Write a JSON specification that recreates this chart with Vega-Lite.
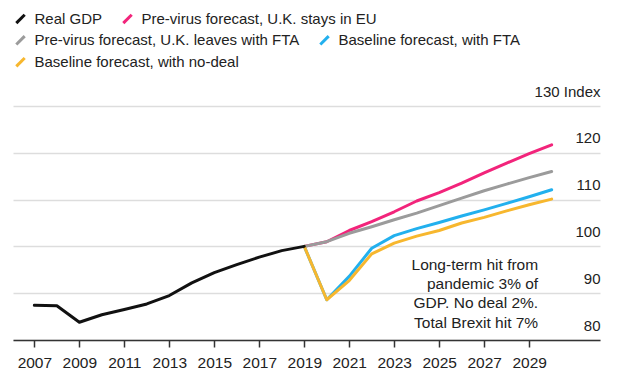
{
  "$schema": "https://vega.github.io/schema/vega-lite/v6.json",
  "width": 587,
  "height": 234,
  "autosize": {"type": "none"},
  "padding": {"left": 13, "top": 106, "right": 20, "bottom": 40},
  "background": "white",
  "config": {
    "view": {"stroke": null},
    "font": "Liberation Sans",
    "legend": {
      "title": null,
      "orient": "none",
      "direction": "horizontal",
      "columns": 2,
      "columnPadding": 14,
      "rowPadding": 1,
      "labelFontSize": 15,
      "labelColor": "#222222",
      "labelOffset": 6.5,
      "labelLimit": 400,
      "symbolType": "M-1,1L1,-1",
      "symbolSize": 70,
      "symbolStrokeWidth": 3,
      "symbolFillColor": "transparent"
    }
  },
  "datasets": {
    "gdp": [
      {"year": 2007, "value": 87.4, "series": "Real GDP"},
      {"year": 2008, "value": 87.3, "series": "Real GDP"},
      {"year": 2009, "value": 83.8, "series": "Real GDP"},
      {"year": 2010, "value": 85.4, "series": "Real GDP"},
      {"year": 2011, "value": 86.5, "series": "Real GDP"},
      {"year": 2012, "value": 87.7, "series": "Real GDP"},
      {"year": 2013, "value": 89.5, "series": "Real GDP"},
      {"year": 2014, "value": 92.2, "series": "Real GDP"},
      {"year": 2015, "value": 94.4, "series": "Real GDP"},
      {"year": 2016, "value": 96.1, "series": "Real GDP"},
      {"year": 2017, "value": 97.7, "series": "Real GDP"},
      {"year": 2018, "value": 99.1, "series": "Real GDP"},
      {"year": 2019, "value": 100.0, "series": "Real GDP"},
      {"year": 2019, "value": 100.0, "series": "Pre-virus forecast, U.K. stays in EU"},
      {"year": 2020, "value": 101.0, "series": "Pre-virus forecast, U.K. stays in EU"},
      {"year": 2021, "value": 103.4, "series": "Pre-virus forecast, U.K. stays in EU"},
      {"year": 2022, "value": 105.3, "series": "Pre-virus forecast, U.K. stays in EU"},
      {"year": 2023, "value": 107.4, "series": "Pre-virus forecast, U.K. stays in EU"},
      {"year": 2024, "value": 109.7, "series": "Pre-virus forecast, U.K. stays in EU"},
      {"year": 2025, "value": 111.5, "series": "Pre-virus forecast, U.K. stays in EU"},
      {"year": 2026, "value": 113.5, "series": "Pre-virus forecast, U.K. stays in EU"},
      {"year": 2027, "value": 115.7, "series": "Pre-virus forecast, U.K. stays in EU"},
      {"year": 2028, "value": 117.8, "series": "Pre-virus forecast, U.K. stays in EU"},
      {"year": 2029, "value": 119.8, "series": "Pre-virus forecast, U.K. stays in EU"},
      {"year": 2030, "value": 121.7, "series": "Pre-virus forecast, U.K. stays in EU"},
      {"year": 2019, "value": 100.0, "series": "Pre-virus forecast, U.K. leaves with FTA"},
      {"year": 2020, "value": 101.0, "series": "Pre-virus forecast, U.K. leaves with FTA"},
      {"year": 2021, "value": 102.8, "series": "Pre-virus forecast, U.K. leaves with FTA"},
      {"year": 2022, "value": 104.2, "series": "Pre-virus forecast, U.K. leaves with FTA"},
      {"year": 2023, "value": 105.7, "series": "Pre-virus forecast, U.K. leaves with FTA"},
      {"year": 2024, "value": 107.1, "series": "Pre-virus forecast, U.K. leaves with FTA"},
      {"year": 2025, "value": 108.7, "series": "Pre-virus forecast, U.K. leaves with FTA"},
      {"year": 2026, "value": 110.3, "series": "Pre-virus forecast, U.K. leaves with FTA"},
      {"year": 2027, "value": 111.9, "series": "Pre-virus forecast, U.K. leaves with FTA"},
      {"year": 2028, "value": 113.3, "series": "Pre-virus forecast, U.K. leaves with FTA"},
      {"year": 2029, "value": 114.7, "series": "Pre-virus forecast, U.K. leaves with FTA"},
      {"year": 2030, "value": 116.0, "series": "Pre-virus forecast, U.K. leaves with FTA"},
      {"year": 2019, "value": 100.0, "series": "Baseline forecast, with FTA"},
      {"year": 2020, "value": 88.6, "series": "Baseline forecast, with FTA"},
      {"year": 2021, "value": 93.6, "series": "Baseline forecast, with FTA"},
      {"year": 2022, "value": 99.6, "series": "Baseline forecast, with FTA"},
      {"year": 2023, "value": 102.3, "series": "Baseline forecast, with FTA"},
      {"year": 2024, "value": 103.8, "series": "Baseline forecast, with FTA"},
      {"year": 2025, "value": 105.1, "series": "Baseline forecast, with FTA"},
      {"year": 2026, "value": 106.5, "series": "Baseline forecast, with FTA"},
      {"year": 2027, "value": 107.8, "series": "Baseline forecast, with FTA"},
      {"year": 2028, "value": 109.2, "series": "Baseline forecast, with FTA"},
      {"year": 2029, "value": 110.6, "series": "Baseline forecast, with FTA"},
      {"year": 2030, "value": 112.1, "series": "Baseline forecast, with FTA"},
      {"year": 2019, "value": 100.0, "series": "Baseline forecast, with no-deal"},
      {"year": 2020, "value": 88.6, "series": "Baseline forecast, with no-deal"},
      {"year": 2021, "value": 92.7, "series": "Baseline forecast, with no-deal"},
      {"year": 2022, "value": 98.4, "series": "Baseline forecast, with no-deal"},
      {"year": 2023, "value": 100.7, "series": "Baseline forecast, with no-deal"},
      {"year": 2024, "value": 102.2, "series": "Baseline forecast, with no-deal"},
      {"year": 2025, "value": 103.4, "series": "Baseline forecast, with no-deal"},
      {"year": 2026, "value": 105.0, "series": "Baseline forecast, with no-deal"},
      {"year": 2027, "value": 106.2, "series": "Baseline forecast, with no-deal"},
      {"year": 2028, "value": 107.6, "series": "Baseline forecast, with no-deal"},
      {"year": 2029, "value": 108.9, "series": "Baseline forecast, with no-deal"},
      {"year": 2030, "value": 110.1, "series": "Baseline forecast, with no-deal"}
    ],
    "note": [
      {"note": "Long-term hit from\npandemic 3% of\nGDP. No deal 2%.\nTotal Brexit hit 7%"}
    ]
  },
  "layer": [
    {
      "data": {"name": "gdp"},
      "transform": [{"filter": "datum.series == 'Pre-virus forecast, U.K. stays in EU'"}],
      "mark": {"type": "line", "strokeWidth": 3, "strokeCap": "round", "strokeJoin": "round"},
      "encoding": {
        "x": {
          "field": "year",
          "type": "quantitative",
          "scale": {"domain": [2006.05, 2032.15], "nice": false, "zero": false},
          "axis": {
            "title": null,
            "values": [2007, 2009, 2011, 2013, 2015, 2017, 2019, 2021, 2023, 2025, 2027, 2029],
            "format": "d",
            "grid": false,
            "domainColor": "#333333",
            "domainWidth": 1.5,
            "tickColor": "#333333",
            "tickWidth": 1.5,
            "tickSize": 7,
            "labelPadding": 8,
            "labelFontSize": 15.5,
            "labelColor": "#222222",
            "labelFlush": false,
            "labelOverlap": false
          }
        },
        "y": {
          "field": "value",
          "type": "quantitative",
          "scale": {"domain": [80, 130], "nice": false, "zero": false},
          "axis": {
            "title": null,
            "orient": "right",
            "values": [80, 90, 100, 110, 120, 130],
            "domain": false,
            "ticks": false,
            "tickSize": 0,
            "labelPadding": 0,
            "labelAlign": "right",
            "labelBaseline": "middle",
            "labelOffset": -15,
            "labelFontSize": 15,
            "labelColor": "#222222",
            "labelOverlap": false,
            "labelBound": false,
            "labelFlush": false,
            "labelExpr": "datum.value == 130 ? '130 Index' : datum.label",
            "grid": true,
            "gridColor": "#dddddd",
            "gridWidth": 1.5
          }
        },
        "color": {
          "field": "series",
          "type": "nominal",
          "scale": {
            "domain": ["Real GDP", "Pre-virus forecast, U.K. stays in EU"],
            "range": ["#111111", "#f2247b"]
          },
          "legend": {"legendX": 0, "legendY": -94.7}
        }
      }
    },
    {
      "data": {"name": "gdp"},
      "transform": [{"filter": "datum.series == 'Pre-virus forecast, U.K. leaves with FTA'"}],
      "mark": {"type": "line", "strokeWidth": 3, "strokeCap": "round", "strokeJoin": "round"},
      "encoding": {
        "x": {"field": "year", "type": "quantitative"},
        "y": {"field": "value", "type": "quantitative"},
        "stroke": {
          "field": "series",
          "type": "nominal",
          "scale": {
            "domain": ["Pre-virus forecast, U.K. leaves with FTA", "Baseline forecast, with FTA", "Baseline forecast, with no-deal"],
            "range": ["#9b9b9b", "#22b0ee", "#f7b72e"]
          },
          "legend": {"legendX": 0, "legendY": -73.3}
        }
      }
    },
    {
      "data": {"name": "gdp"},
      "transform": [{"filter": "datum.series == 'Baseline forecast, with FTA'"}],
      "mark": {"type": "line", "strokeWidth": 3, "strokeCap": "round", "strokeJoin": "round"},
      "encoding": {
        "x": {"field": "year", "type": "quantitative"},
        "y": {"field": "value", "type": "quantitative"},
        "stroke": {"field": "series", "type": "nominal"}
      }
    },
    {
      "data": {"name": "gdp"},
      "transform": [{"filter": "datum.series == 'Baseline forecast, with no-deal'"}],
      "mark": {"type": "line", "strokeWidth": 3, "strokeCap": "round", "strokeJoin": "round"},
      "encoding": {
        "x": {"field": "year", "type": "quantitative"},
        "y": {"field": "value", "type": "quantitative"},
        "stroke": {"field": "series", "type": "nominal"}
      }
    },
    {
      "data": {"name": "gdp"},
      "transform": [{"filter": "datum.series == 'Real GDP'"}],
      "mark": {"type": "line", "strokeWidth": 3, "strokeCap": "round", "strokeJoin": "round"},
      "encoding": {
        "x": {"field": "year", "type": "quantitative"},
        "y": {"field": "value", "type": "quantitative"},
        "color": {"field": "series", "type": "nominal"}
      }
    },
    {
      "data": {"name": "note"},
      "mark": {
        "type": "text",
        "align": "right",
        "baseline": "top",
        "fontSize": 15.5,
        "lineHeight": 19.3,
        "lineBreak": "\n",
        "color": "#222222"
      },
      "encoding": {
        "x": {"datum": 2029.4, "type": "quantitative"},
        "y": {"datum": 97.6, "type": "quantitative"},
        "text": {"field": "note", "type": "nominal"}
      }
    }
  ]
}
